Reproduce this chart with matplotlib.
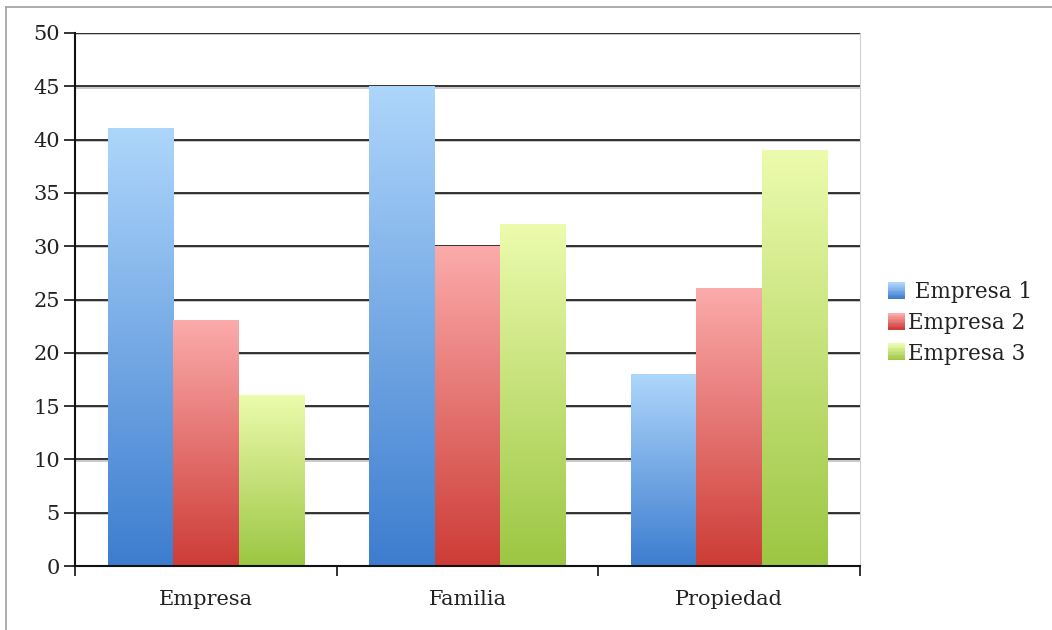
import numpy as np
import matplotlib.pyplot as plt
from matplotlib.colors import LinearSegmentedColormap
from matplotlib.legend_handler import HandlerBase
from matplotlib.lines import Line2D

categories = ['Empresa', 'Familia', 'Propiedad']
series = [' Empresa 1', 'Empresa 2', 'Empresa 3']
empresa1 = [41, 45, 18]
empresa2 = [23, 30, 26]
empresa3 = [16, 32, 39]
yticks = [0, 5, 10, 15, 20, 25, 30, 35, 40, 45, 50]

# colores del degradado: (arriba, abajo)
grads = [('#aed6fb', '#3d7dcf'),
         ('#fbabab', '#cd3c36'),
         ('#ecfbad', '#9cc643')]
cmaps = [LinearSegmentedColormap.from_list('g%d' % i, [g[1], g[0]]) for i, g in enumerate(grads)]


class GradHandler(HandlerBase):
    def create_artists(self, legend, orig_handle, xdescent, ydescent,
                       width, height, fontsize, trans):
        cm = cmaps[orig_handle]
        n = 12
        arts = []
        for k in range(n):
            r = plt.Rectangle((-xdescent, -ydescent + height*k/n), width, height/n + 0.3,
                              facecolor=cm(k/(n-1)), edgecolor='none', transform=trans)
            arts.append(r)
        return arts


plt.rcParams['font.family'] = ['DejaVu Serif']

fig = plt.figure(figsize=(10.52, 6.3), dpi=100)
ax = fig.add_axes([75/1052, 1-566/630, 785/1052, 533/630])

width = 0.25
x = np.arange(len(categories))
values = [empresa1, empresa2, empresa3]
grad = np.linspace(0, 1, 256).reshape(-1, 1)

for i, vals in enumerate(values):
    bars = ax.bar(x + (i-1)*width, vals, width, color=grads[i][1], zorder=2)
    for b in bars:
        b.set_visible(False)
        x0 = b.get_x()
        ax.imshow(grad, extent=[x0, x0+width, 0, b.get_height()], origin='lower',
                  cmap=cmaps[i], aspect='auto', zorder=2, interpolation='bicubic')

ax.set_xlim(-0.5, 2.5)
ax.set_ylim(0, 50)

# lineas de cuadricula con sombra
for yv in yticks[1:]:
    ax.axhline(yv - 0.12, color='#c0c0c0', lw=1.2, zorder=1)
    ax.axhline(yv, color='#111111', lw=1.2, zorder=1)

ax.set_yticks(yticks)
ax.set_xticks(x)
ax.set_xticklabels(categories)
ax.set_xticks([-0.5, 0.5, 1.5, 2.5], minor=True)
ax.tick_params(axis='x', which='major', length=0, pad=17, labelsize=15)
ax.tick_params(axis='x', which='minor', length=7, width=1.2, direction='out', color='#111111')
ax.tick_params(axis='y', length=8, width=1.2, color='#111111', labelsize=15, pad=3)
for t in ax.get_yticklabels() + ax.get_xticklabels():
    t.set_color('#222222')

ax.spines['top'].set_visible(False)
ax.spines['right'].set_color('#d0d0d0')
ax.spines['left'].set_linewidth(1.5)
ax.spines['left'].set_color('#111111')
ax.spines['bottom'].set_linewidth(1.5)
ax.spines['bottom'].set_color('#111111')

leg = fig.legend([0, 1, 2], series, handler_map={int: GradHandler()},
                 loc='center left', bbox_to_anchor=(877/1052, 1-323/630),
                 frameon=False, fontsize=15.5, handlelength=0.8, handleheight=0.8,
                 handletextpad=0.15, labelspacing=0.4, borderpad=0)
for t in leg.get_texts():
    t.set_color('#222222')

# borde exterior (izquierda y arriba)
fig.add_artist(Line2D([6/1052, 6/1052], [0, 1-7/630], color='#a0a0a0', lw=1.2))
fig.add_artist(Line2D([6/1052, 1], [1-7/630, 1-7/630], color='#a0a0a0', lw=1.2))

fig.savefig('out.png', dpi=100)
